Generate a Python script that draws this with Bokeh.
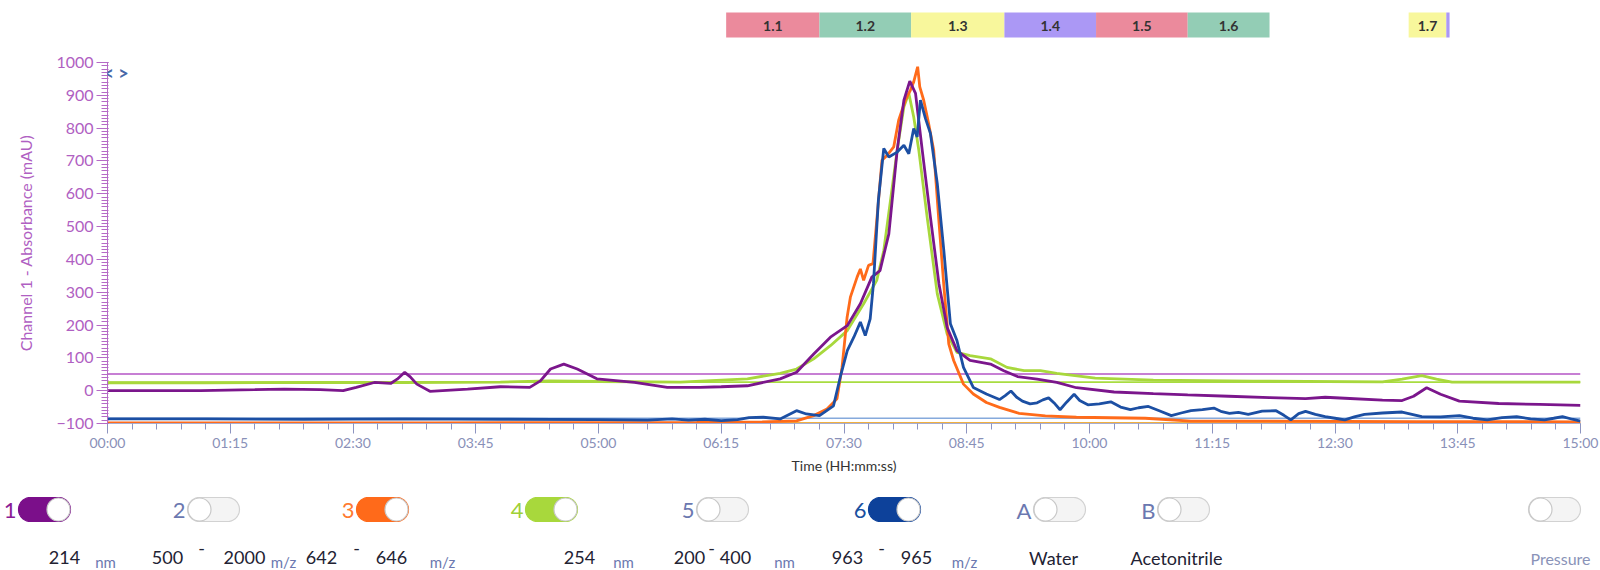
import numpy as np
from bokeh.plotting import figure
from bokeh.layouts import column
from bokeh.models import Range1d, SingleIntervalTicker, CustomJSTickFormatter, Label
from bokeh.core.properties import value
from bokeh.embed import file_html
from bokeh.resources import INLINE

FONT = "Lato"

# ---------------- data (time in seconds, absorbance in mAU) ----------------
ch1_t = [0, 30, 57, 90, 108, 130, 144, 152, 163, 173, 177, 181.6, 185, 189, 197, 220, 240, 258, 264.5,
         270.7, 278.8, 287, 299, 322, 342, 362, 375, 391, 411, 421, 431.5, 441.7, 452, 460, 467, 472,
         477.4, 482.5, 486.6, 490.2, 493.7, 497.8, 502.8, 508, 513, 519, 527, 539.5, 547.6, 556, 568,
         580, 592, 615, 639, 660, 685, 710, 732, 744, 756, 779, 791, 798, 806, 814.5, 826, 850, 875, 900]
ch1_v = [0, 0, 0, 3, 5, 3, 0, 10, 25, 22, 35, 56, 42, 20, -2, 5, 12, 10, 30,
         66, 81, 66, 36, 25, 10, 10, 12, 15, 36, 56, 112, 163, 198, 265, 346, 366,
         478, 733, 885, 943, 906, 733, 529, 326, 193, 122, 92, 81, 61, 43, 35,
         25, 9, -4, -9, -13, -17, -21, -24, -20, -23, -29, -30, -17, 9, -11, -32, -39, -42, -45]

ch3_t = [0, 200, 360, 400, 421, 431.5, 439.6, 445.7, 448.8, 451.9, 453.9, 458, 460, 462, 465, 467.7,
         470.2, 473.2, 476.3, 480.4, 483.4, 487.5, 490.6, 492.6, 495, 496.3, 498.7, 501.7, 504.8, 507.8,
         510.9, 514, 517, 523, 529, 537, 545, 557, 573, 592, 634, 662, 709, 800, 900]
ch3_v = [-98, -98, -97, -95, -92, -76, -56, -25, 71, 224, 285, 346, 371, 336, 382, 387,
         529, 702, 717, 743, 824, 885, 916, 941, 987, 926, 885, 814, 733, 529,
         326, 143, 92, 20, -10, -36, -51, -69, -77, -81, -84, -93, -93, -94, -95]

ch4_t = [0, 60, 120, 180, 240, 270, 300, 350, 391, 411, 421, 431.5, 441.7, 452, 462, 470, 474.3, 478.4,
         482.5, 486.6, 489.6, 492.6, 495.7, 500.8, 507, 513, 519, 527, 539.5, 549.6, 560, 570, 580,
         603.5, 639, 700, 779, 791, 803, 812, 821.5, 860, 900]
ch4_v = [24, 24, 25, 25, 26, 30, 28, 26, 36, 53, 66, 97, 137, 183, 265, 336, 427, 580,
         733, 865, 906, 834, 733, 529, 295, 173, 117, 107, 97, 71, 61, 61, 53,
         38, 32, 29, 27, 35, 46, 35, 26, 26, 26]

ch6_t = [0, 60, 120, 180, 240, 300, 330, 345, 355, 365, 375, 385, 392, 400.7, 411, 421, 427, 435,
         443.6, 447.7, 452, 456, 460, 463, 466, 468, 471, 474.3, 477.4, 482.5, 486.6, 489.6, 492.6,
         494.7, 496.7, 499.8, 502.8, 507, 511, 515, 519, 523, 529, 537, 545, 548.5, 552, 555.5, 559,
         563.7, 568, 571.5, 575, 578.9, 582, 586, 590.6, 594, 599, 606, 613, 619, 625, 630, 636, 643,
         650, 656, 662, 669, 676, 680.8, 685.5, 691, 697, 705.5, 714, 718.8, 723, 727.8, 732, 738, 744,
         750, 756, 761.8, 768, 779, 791, 797, 803, 814.5, 826, 834.3, 843, 852, 861, 869.5, 878, 883.6,
         889, 895, 900]
ch6_v = [-86, -86, -87, -86, -87, -88, -90, -86, -90, -87, -91, -88, -82, -81, -86, -61, -71, -76,
         -46, 41, 122, 163, 209, 168, 219, 326, 580, 738, 712, 727, 748, 722, 799,
         773, 885, 829, 784, 631, 427, 204, 153, 71, 10, -10, -27, -15, -1, -20, -32,
         -40, -37, -28, -22, -40, -58, -35, -11, -30, -43, -40, -34, -50, -58, -52, -48, -62,
         -76, -68, -61, -58, -53, -64, -69, -66, -72, -62, -61, -75, -89, -70, -63, -72, -79,
         -84, -89, -80, -72, -68, -65, -72, -79, -80, -76, -84, -89, -82, -79, -86, -89, -84,
         -79, -87, -93]

threshold_vals = [51, 26, -84, -98]

frac_labels = ["1.1", "1.2", "1.3", "1.4", "1.5", "1.6", "1.7", ""]
frac_start = [378, 435, 491, 548, 604, 660, 795, 818]
frac_end = [435, 491, 548, 604, 660, 710, 818, 820]

channel_names = ["1", "2", "3", "4", "5", "6", "A", "B", ""]
channel_on = [True, False, True, True, False, True, False, False, False]

input_texts = ["214", "500", "-", "2000", "642", "-", "646", "254", "200", "-", "400",
               "963", "-", "965", "Water", "Acetonitrile"]
unit_texts = ["nm", "m/z", "m/z", "nm", "nm", "m/z"]

# ---------------- styles / layout ----------------
C_PURPLE = "#7b168c"
C_ORANGE = "#ff6b1a"
C_GREEN = "#a8d83c"
C_BLUE = "#1c4fa3"
threshold_colors = ["#b454c6", "#a8dc40", "#86aadc", "#f0b040"]
frac_colors = ["#eb8a9c", "#93cdb5", "#f8f79c", "#ab98f5", "#eb8a9c", "#93cdb5", "#f8f79c", "#ab98f5"]

W = 1600
BL, BR = 107, 20
xr = Range1d(0, 900)

# ---- fraction bar ----
top = figure(width=W, height=46, x_range=xr, y_range=Range1d(46, 0), toolbar_location=None,
             output_backend="svg", min_border_left=BL, min_border_right=BR, min_border_top=0,
             min_border_bottom=0, x_axis_location=None, y_axis_location=None)
top.grid.visible = False
top.outline_line_color = None
top.quad(left=frac_start, right=frac_end, top=12, bottom=37, fill_color=frac_colors, line_color=None)
top.text(x=[(a + b) / 2 for a, b in zip(frac_start, frac_end)], y=[25] * len(frac_labels), text=frac_labels,
         text_align="center", text_baseline="middle", text_font=value(FONT), text_font_style="bold",
         text_font_size="14px", text_color="#333333")

# ---- main chart ----
p = figure(width=W, height=432, x_range=xr, y_range=Range1d(-100, 1000), toolbar_location=None,
           output_backend="svg", min_border_left=BL, min_border_right=BR, min_border_top=16,
           min_border_bottom=55)
p.grid.visible = False
p.outline_line_color = None

for v, c in zip(threshold_vals, threshold_colors):
    p.line(x=[0, 900], y=[v, v], line_color=c, line_width=1.6)

p.line(ch4_t, ch4_v, line_color=C_GREEN, line_width=2.8)
p.line(ch3_t, ch3_v, line_color=C_ORANGE, line_width=2.8)
p.line(ch1_t, ch1_v, line_color=C_PURPLE, line_width=2.8)
p.line(ch6_t, ch6_v, line_color=C_BLUE, line_width=2.8)

p.xaxis.ticker = SingleIntervalTicker(interval=75, num_minor_ticks=5)
p.xaxis.formatter = CustomJSTickFormatter(code="""
const m = Math.floor(tick / 60); const s = Math.round(tick % 60);
return String(m).padStart(2, '0') + ':' + String(s).padStart(2, '0');""")
p.xaxis.axis_label = "Time (HH:mm:ss)"
p.xaxis.axis_label_text_font = FONT
p.xaxis.axis_label_text_font_style = "normal"
p.xaxis.axis_label_text_font_size = "14px"
p.xaxis.axis_label_text_color = "#333333"
p.xaxis.axis_label_standoff = 3
p.xaxis.major_label_text_font = FONT
p.xaxis.major_label_text_font_size = "14px"
p.xaxis.major_label_text_color = "#8990b8"
p.xaxis.major_label_standoff = 0
p.xaxis.axis_line_color = "#a8aed0"
p.xaxis.major_tick_line_color = "#8d94c0"
p.xaxis.minor_tick_line_color = "#8d94c0"
p.xaxis.major_tick_out = 10
p.xaxis.major_tick_in = 0
p.xaxis.minor_tick_out = 6
p.xaxis.minor_tick_in = 0

p.yaxis.ticker = SingleIntervalTicker(interval=100, num_minor_ticks=10)
p.yaxis.axis_label = "Channel 1 - Absorbance (mAU)"
p.yaxis.axis_label_text_font = FONT
p.yaxis.axis_label_text_font_style = "normal"
p.yaxis.axis_label_text_font_size = "16px"
p.yaxis.axis_label_text_color = "#b060c2"
p.yaxis.axis_label_standoff = 18
p.yaxis.major_label_text_font = FONT
p.yaxis.major_label_text_font_size = "16px"
p.yaxis.major_label_text_color = "#b060c2"
p.yaxis.major_label_standoff = 3
p.yaxis.axis_line_color = "#b56ac6"
p.yaxis.major_tick_line_color = "#b56ac6"
p.yaxis.minor_tick_line_color = "#b56ac6"
p.yaxis.major_tick_out = 11
p.yaxis.major_tick_in = 1
p.yaxis.minor_tick_out = 6
p.yaxis.minor_tick_in = 1

p.add_layout(Label(x=0, y=1003, x_offset=-4, text="< >", text_baseline="top", text_color="#4668a8",
                   text_font=FONT, text_font_size="18px", text_font_style="bold"))

# ---- bottom controls (pixel coordinates; y measured down from top of this strip) ----
BH = 92
b = figure(width=W, height=BH, x_range=Range1d(0, W), y_range=Range1d(BH, 0), toolbar_location=None,
           output_backend="svg", min_border=0, min_border_left=0, min_border_right=0,
           x_axis_location=None, y_axis_location=None)
b.frame_align = False
b.grid.visible = False
b.outline_line_color = None

tog_left = [18, 187, 356, 525, 696, 868, 1033, 1157, 1528]
TW, TH, TY = 52, 24, 31
name_colors = ["#8a1a96", "#6b78b0", "#ff7a30", "#a0d038", "#6b78b0", "#1a4fa0", "#6b78b0", "#6b78b0", "#6b78b0"]
on_colors = ["#7b0f8a", None, "#ff6a1a", "#a8d83c", None, "#0d419a", None, None, None]


def pill(x0, yc, w, h):
    r = h / 2
    a1 = np.linspace(np.pi / 2, 3 * np.pi / 2, 20)
    a2 = np.linspace(-np.pi / 2, np.pi / 2, 20)
    xs = np.concatenate([x0 + r + r * np.cos(a1), x0 + w - r + r * np.cos(a2)])
    ys = np.concatenate([yc - r * np.sin(a1), yc - r * np.sin(a2)])
    return list(xs), list(ys)


pxs, pys, pfill, pline, kx = [], [], [], [], []
for x0, on, oc in zip(tog_left, channel_on, on_colors):
    xs, ys = pill(x0, TY, TW, TH)
    pxs.append(xs)
    pys.append(ys)
    pfill.append(oc if on else "#f4f4f4")
    pline.append(oc if on else "#d2d2d2")
    kx.append(x0 + TW - TH / 2 if on else x0 + TH / 2)
b.patches(pxs, pys, fill_color=pfill, line_color=pline, line_width=1.2)
b.circle(x=kx, y=[TY] * len(kx), radius=TH / 2 - 0.5, fill_color="white", line_color="#c8c8c8", line_width=1.2)
b.text(x=[x0 - 2 for x0 in tog_left], y=[TY + 1] * len(tog_left), text=channel_names, text_align="right",
       text_baseline="middle", text_font=value(FONT), text_font_size="22px", text_color=name_colors)

input_x = [64, 167, 201, 244, 321, 356, 391, 579, 689, 711, 735, 847, 881, 916, 1053, 1176]
input_y = [79, 79, 70, 79, 79, 70, 79, 79, 79, 70, 79, 79, 70, 79, 79, 79]
b.text(x=input_x, y=input_y, text=input_texts, text_align="center", text_baseline="middle",
       text_font=value(FONT), text_font_size="18px", text_color="#222233")
unit_x = [105, 283, 442, 623, 784, 964]
b.text(x=unit_x, y=[83] * len(unit_x), text=unit_texts, text_align="center", text_baseline="middle",
       text_font=value(FONT), text_font_size="15px", text_color="#6b78b0")
b.text(x=[1560], y=[80], text=["Pressure"], text_align="center", text_baseline="middle",
       text_font=value(FONT), text_font_size="16px", text_color="#8a93b8")

layout = column(top, p, b, spacing=0)
open("out.html", "w").write(file_html(layout, INLINE))
